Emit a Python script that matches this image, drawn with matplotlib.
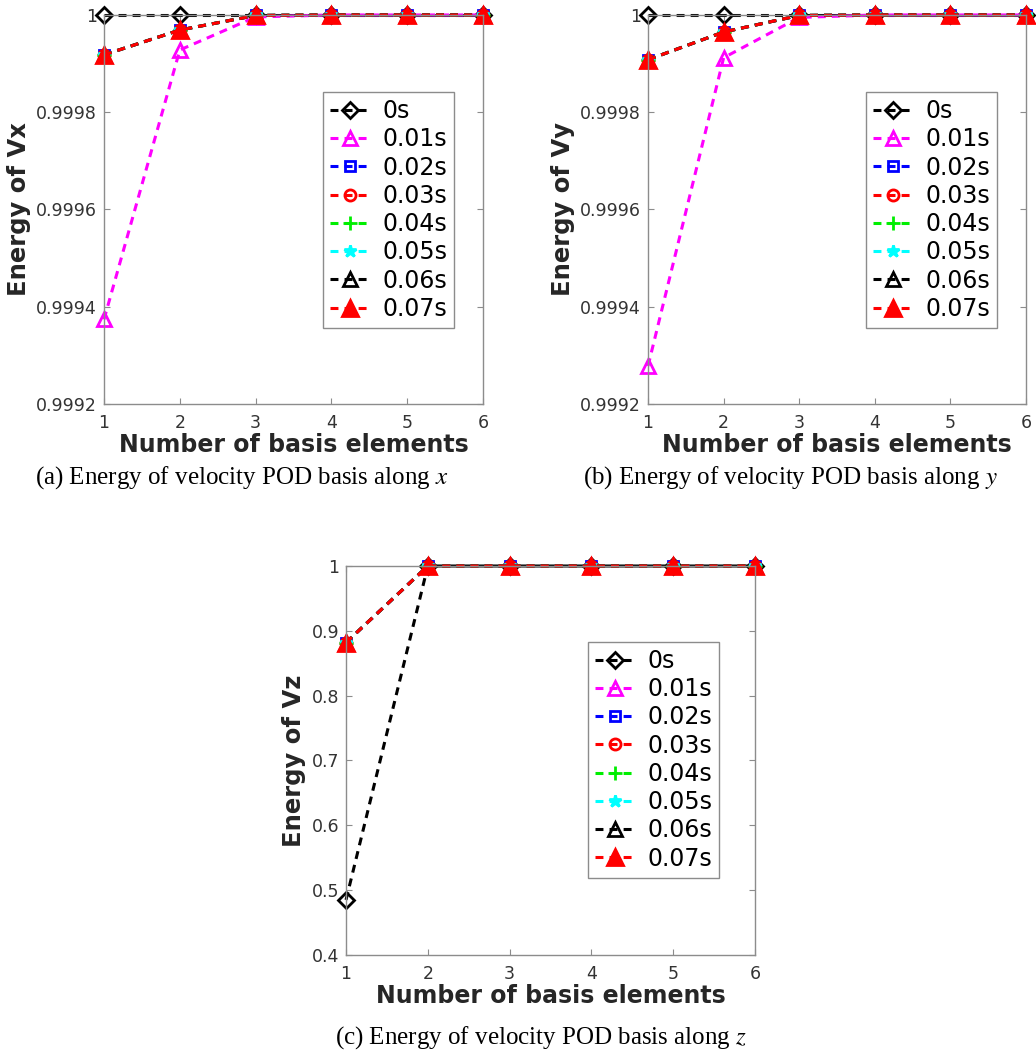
import numpy as np
import matplotlib
matplotlib.use("Agg")
import matplotlib.pyplot as plt

# basis index and time snapshot labels
n_basis = [1, 2, 3, 4, 5, 6]
times = ["0s", "0.01s", "0.02s", "0.03s", "0.04s", "0.05s", "0.06s", "0.07s"]

# energy of Vx per snapshot
vx_0s = [1.0, 1.0, 1.0, 1.0, 1.0, 1.0]
vx_001 = [0.999374, 0.999928, 0.999996, 1.0, 1.0, 1.0]
vx_rest = [0.999918, 0.999969, 0.999999, 1.0, 1.0, 1.0]

# energy of Vy per snapshot
vy_0s = [1.0, 1.0, 1.0, 1.0, 1.0, 1.0]
vy_001 = [0.999278, 0.999912, 0.999995, 1.0, 1.0, 1.0]
vy_rest = [0.999908, 0.999965, 0.999999, 1.0, 1.0, 1.0]

# energy of Vz per snapshot
vz_0s = [0.485, 1.0, 1.0, 1.0, 1.0, 1.0]
vz_001 = [0.882, 1.0, 1.0, 1.0, 1.0, 1.0]
vz_rest = [0.882, 1.0, 1.0, 1.0, 1.0, 1.0]

x_ticks = [1, 2, 3, 4, 5, 6]
y_ticks_xy = [0.9992, 0.9994, 0.9996, 0.9998, 1.0]
y_ticklabels_xy = ["0.9992", "0.9994", "0.9996", "0.9998", "1"]
y_ticks_z = [0.4, 0.5, 0.6, 0.7, 0.8, 0.9, 1.0]
y_ticklabels_z = ["0.4", "0.5", "0.6", "0.7", "0.8", "0.9", "1"]

captions = [
    r"(a) Energy of velocity POD basis along $x$",
    r"(b) Energy of velocity POD basis along $y$",
    r"(c) Energy of velocity POD basis along $z$",
]

# colour, marker, size, filled for each snapshot
styles = [
    ("black", "D", 8.5, False),
    ("magenta", "^", 10, False),
    ("blue", "s", 7, False),
    ("red", "o", 8, False),
    ("#00ee00", "+", 10, False),
    ("cyan", "*", 9, False),
    ("black", "^", 10, False),
    ("red", "^", 11, True),
]

plt.rcParams["mathtext.fontset"] = "stix"
GRAY = "#262626"
SPINE = "#8c8c8c"


def draw_panel(ax, series, ylabel, yticks, yticklabels, ylim, legend_xy):
    for label, y, (c, m, ms, filled) in zip(times, series, styles):
        ax.plot(n_basis, y, linestyle="--", dashes=(2.6, 2.0), color=c, lw=2.2,
                marker=m, markersize=ms,
                markerfacecolor=c if filled else "none",
                markeredgecolor=c, markeredgewidth=2.0,
                clip_on=False, label=label)
    ax.set_xlim(1, 6)
    ax.set_ylim(*ylim)
    ax.set_xticks(x_ticks)
    ax.set_xticklabels([str(t) for t in x_ticks])
    ax.set_yticks(yticks)
    ax.set_yticklabels(yticklabels)
    ax.tick_params(direction="in", top=True, right=True, length=4,
                   width=0.8, color=SPINE, labelsize=12.5, labelcolor="#333333",
                   pad=5)
    ax.tick_params(axis="x", pad=7)
    for s in ax.spines.values():
        s.set_color(SPINE)
        s.set_linewidth(1.0)
    ax.set_xlabel("Number of basis elements", fontsize=17, fontweight="bold",
                  color=GRAY, labelpad=1)
    ax.set_ylabel(ylabel, fontsize=17.5, fontweight="bold", color=GRAY, labelpad=4)
    leg = ax.legend(loc="upper left", bbox_to_anchor=legend_xy, fontsize=17,
                    handlelength=1.7, handletextpad=0.5, labelspacing=0.18,
                    borderpad=0.3, numpoints=1, fancybox=False, framealpha=1,
                    edgecolor=SPINE, borderaxespad=0)
    leg.get_frame().set_linewidth(1.0)


fig = plt.figure(figsize=(10.36, 10.55), dpi=100)

ax_a = fig.add_axes([0.1004, 0.6171, 0.3658, 0.3687])
ax_b = fig.add_axes([0.6255, 0.6171, 0.3649, 0.3687])
ax_c = fig.add_axes([0.3340, 0.0948, 0.3948, 0.3687])

rest = 6
draw_panel(ax_a, [vx_0s, vx_001] + [vx_rest] * rest, "Energy of Vx",
           y_ticks_xy, y_ticklabels_xy, (0.9992, 1.0), (0.578, 0.802))
draw_panel(ax_b, [vy_0s, vy_001] + [vy_rest] * rest, "Energy of Vy",
           y_ticks_xy, y_ticklabels_xy, (0.9992, 1.0), (0.577, 0.802))
draw_panel(ax_c, [vz_0s, vz_001] + [vz_rest] * rest, "Energy of Vz",
           y_ticks_z, y_ticklabels_z, (0.4, 1.0), (0.592, 0.805))

cap_font = dict(fontsize=18, family="Liberation Serif", ha="center", va="center")
fig.text(242 / 1036, 1 - 478 / 1055, captions[0], **cap_font)
fig.text(790 / 1036, 1 - 478 / 1055, captions[1], **cap_font)
fig.text(541 / 1036, 1 - 1038 / 1055, captions[2], **cap_font)

fig.savefig("out.png", dpi=100)
